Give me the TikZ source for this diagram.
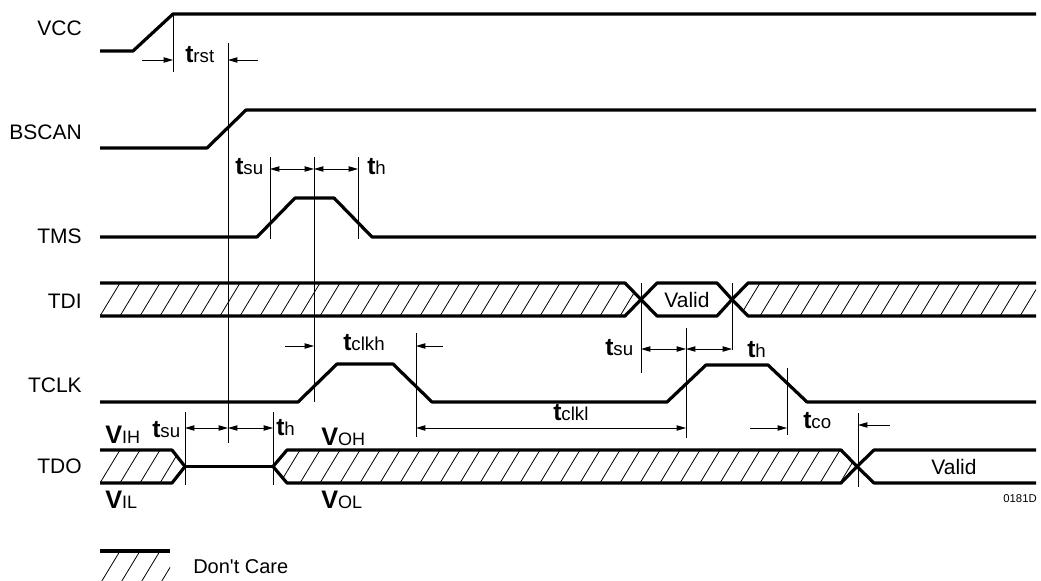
\documentclass[tikz,border=0pt]{standalone}
\usepackage{fontspec}
\setmainfont{Liberation Sans}
\newfontfamily\dcfont{Liberation Sans}
\usetikzlibrary{arrows.meta}
\newcommand\tlab[1]{{\fontsize{18.5}{18.5}\selectfont\bfseries t}{\fontsize{14}{14}\selectfont #1}}
\newcommand\vlab[1]{{\fontsize{19}{19}\selectfont\bfseries V}{\fontsize{13.5}{13.5}\selectfont #1}}
\newcommand\hatchlines[2]{% #1 = bottom y, #2 = x list
  \foreach \hx in {#2} \draw[hl] (\hx,#1) -- ++(20,-33);}
\begin{document}
\begin{tikzpicture}[x=0.75pt,y=-0.75pt,
  sig/.style={line width=2.4pt, line join=round},
  refl/.style={line width=0.7pt},
  hl/.style={line width=0.6pt},
  dimr/.style={line width=0.7pt, -{Triangle[length=7pt,width=4pt]}},
  dimb/.style={line width=0.7pt, {Triangle[length=7pt,width=4pt]}-{Triangle[length=7pt,width=4pt]}},
  lab/.style={anchor=base east, inner sep=0pt, font=\fontsize{15.75}{16}\selectfont},
  txt/.style={anchor=base west, inner sep=0pt},
  vtxt/.style={anchor=base, inner sep=0pt, font=\fontsize{15.75}{16}\selectfont}]
\useasboundingbox (0,0) rectangle (1041,581);

% ---------- signal names ----------
\node[lab] (nvcc) at (82,36) {VCC};
\node[lab] (nbscan) at (82,140) {BSCAN};
\node[lab] (ntms) at (82,243) {TMS};
\node[lab] (ntdi) at (82,308) {TDI};
\node[lab] (ntclk) at (82,392) {TCLK};
\node[lab] (ntdo) at (82,473) {TDO};

% ---------- VCC ----------
\draw[sig] (100,51) -- (133,51) -- (173,14) -- (1036,14);
% ---------- BSCAN ----------
\draw[sig] (100,148) -- (207,148) -- (246,110) -- (1036,110);
% ---------- TMS ----------
\draw[sig] (100,237) -- (257,237) -- (295,198) -- (334,198) -- (372,237) -- (1036,237);
% ---------- TDI ----------
\begin{scope}
  \clip (100,283) -- (625,283) -- (641,299.5) -- (625,316) -- (100,316) -- cycle;
  \hatchlines{316}{80,100,...,640}
\end{scope}
\begin{scope}
  \clip (732,299.5) -- (748,283) -- (1036,283) -- (1036,316) -- (748,316) -- cycle;
  \hatchlines{316}{720,740,...,1040}
\end{scope}
\draw[sig] (100,283) -- (625,283) -- (641,299.5) -- (625,316) -- (100,316);
\draw[sig] (641,299.5) -- (657,283) -- (717,283) -- (732,299.5) -- (717,316) -- (657,316) -- cycle;
\draw[sig] (1036,283) -- (748,283) -- (732,299.5) -- (748,316) -- (1036,316);
\node[vtxt] (tdivalid) at (687,307.5) {Valid};
% ---------- TCLK ----------
\draw[sig] (100,402) -- (298,402) -- (337,364) -- (393,364) -- (432,402) -- (667,402)
  -- (706,365) -- (768,365) -- (807,402) -- (1036,402);
% ---------- TDO ----------
\begin{scope}
  \clip (100,450) -- (172,450) -- (185,466.5) -- (172,483) -- (100,483) -- cycle;
  \hatchlines{483}{80,100,...,200}
\end{scope}
\begin{scope}
  \clip (273,466.5) -- (287,450) -- (841,450) -- (857,466.5) -- (841,483) -- (287,483) -- cycle;
  \hatchlines{483}{260,280,...,860}
\end{scope}
\draw[sig] (100,450) -- (172,450) -- (185,466.5) -- (172,483) -- (100,483);
\draw[sig] (185,466.5) -- (273,466.5);
\draw[sig] (273,466.5) -- (287,450) -- (841,450) -- (857,466.5) -- (841,483) -- (287,483) -- cycle;
\draw[sig] (857,466.5) -- (874,450) -- (1036,450);
\draw[sig] (857,466.5) -- (874,483) -- (1036,483);
\node[vtxt] (tdovalid) at (954,474) {Valid};
\node[anchor=base east, inner sep=0pt, font=\fontsize{8.5}{9}\selectfont] (code) at (1037,502) {0181D};

% ---------- reference lines ----------
\coordinate (a1t) at (173,14);  \coordinate (a1b) at (173,72);
\coordinate (a2t) at (228,43);  \coordinate (a2b) at (228,443);
\coordinate (a3t) at (270,157); \coordinate (a3b) at (270,239);
\coordinate (a4t) at (314,157); \coordinate (a4b) at (314,402);
\coordinate (a5t) at (358,157); \coordinate (a5b) at (358,239);
\coordinate (a6t) at (416,333); \coordinate (a6b) at (416,437);
\coordinate (a7t) at (641,283); \coordinate (a7b) at (641,373);
\coordinate (a8t) at (686,328); \coordinate (a8b) at (686,438);
\coordinate (a9t) at (732,283); \coordinate (a9b) at (732,350);
\coordinate (a10t) at (787,368); \coordinate (a10b) at (787,435);
\coordinate (a11t) at (858,413); \coordinate (a11b) at (858,487);
\coordinate (a12t) at (185,412); \coordinate (a12b) at (185,485);
\coordinate (a13t) at (273,412); \coordinate (a13b) at (273,485);
\foreach \i in {1,...,13} \draw[refl] (a\i t) -- (a\i b);

% ---------- dimension arrows ----------
\coordinate (s1) at (142,60);  \draw[dimr] (s1) -- (s1 -| a1t);
\coordinate (s2) at (258,60);  \draw[dimr] (s2) -- (s2 -| a2t);
\draw[dimb] (270,169) -- (314,169);
\draw[dimb] (314,169) -- (358,169);
\coordinate (s3) at (285,346); \draw[dimr] (s3) -- (s3 -| a4t);
\coordinate (s4) at (443,346); \draw[dimr] (s4) -- (s4 -| a6t);
\draw[dimb] (416,428) -- (686,428);
\draw[dimb] (641,349) -- (686,349);
\draw[dimb] (686,349) -- (732,349);
\coordinate (s5) at (750,428); \draw[dimr] (s5) -- (s5 -| a10t);
\coordinate (s6) at (890,425); \draw[dimr] (s6) -- (s6 -| a11t);
\draw[dimb] (185,428) -- (228,428);
\draw[dimb] (228,428) -- (273,428);

% ---------- timing labels ----------
\node[txt] (trst) at (185,63) {\tlab{rst}};
\node[txt] (tsu1) at (235,175) {\tlab{su}};
\node[txt] (th1) at (367,175) {\tlab{h}};
\node[txt] (tclkh) at (343,350) {\tlab{clkh}};
\node[txt] (tclkl) at (553,420) {\tlab{clkl}};
\node[txt] (tsu2) at (605,355) {\tlab{su}};
\node[txt] (th2) at (747,357) {\tlab{h}};
\node[txt] (tco) at (803,428) {\tlab{co}};
\node[txt] (tsu3) at (152,437) {\tlab{su}};
\node[txt] (th3) at (276,435) {\tlab{h}};
\node[txt] (vih) at (105,443) {\vlab{IH}};
\node[txt] (vil) at (105,508) {\vlab{IL}};
\node[txt] (voh) at (321,445) {\vlab{OH}};
\node[txt] (vol) at (321,508) {\vlab{OL}};

% ---------- legend ----------
\begin{scope}
  \clip (100,551) rectangle (170,581);
  \hatchlines{584}{80,100,...,180}
\end{scope}
\draw[sig] (100,551) -- (170,551);
\node[txt, font=\dcfont\fontsize{15}{16}\selectfont] (dc) at (193,573) {Don't Care};
\end{tikzpicture}
\end{document}
